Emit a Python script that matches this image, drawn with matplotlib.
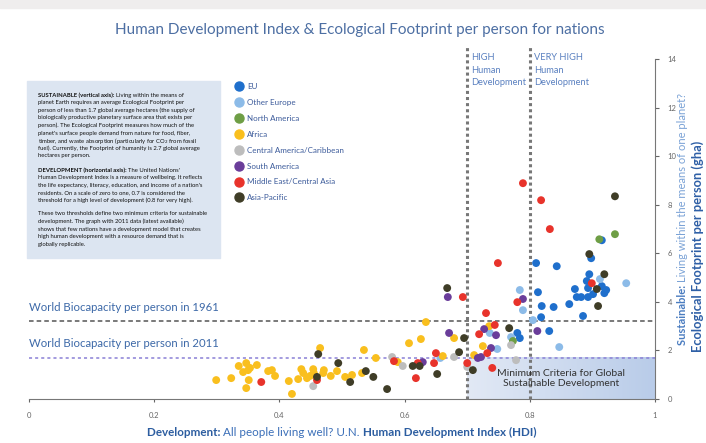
import numpy as np
import matplotlib.pyplot as plt
from matplotlib.lines import Line2D
from matplotlib.patches import Rectangle
from matplotlib.colors import LinearSegmentedColormap

plt.rcParams['font.family'] = ['Lato', 'DejaVu Sans']

# --- data (HDI, Ecological Footprint in gha) ---
regions = ['EU', 'Other Europe', 'North America', 'Africa',
           'Central America/Caribbean', 'South America',
           'Middle East/Central Asia', 'Asia-Pacific']
region_colors = ['#1f6fcc', '#8cbbe8', '#6e9e45', '#f9bf1e',
                 '#bdbdbd', '#6a3d9a', '#e8332b', '#3f3d27']

eu_hdi = [0.810, 0.843, 0.813, 0.819, 0.818, 0.831, 0.838, 0.780, 0.784, 0.863, 0.885, 0.872,
          0.875, 0.882, 0.893, 0.901, 0.893, 0.891, 0.895, 0.915, 0.922, 0.919, 0.898, 0.915]
eu_fp = [5.60, 5.47, 4.40, 3.83, 3.37, 2.80, 3.79, 2.72, 2.51, 3.91, 3.42, 4.53,
         4.20, 4.20, 4.20, 4.32, 4.57, 4.86, 5.14, 4.65, 4.49, 4.36, 5.80, 6.54]

oeu_hdi = [0.657, 0.748, 0.736, 0.770, 0.784, 0.789, 0.805, 0.847, 0.912, 0.954]
oeu_fp = [1.69, 2.06, 2.72, 2.55, 4.49, 3.66, 3.25, 2.14, 4.94, 4.77]

nam_hdi = [0.773, 0.911, 0.936]
nam_fp = [2.39, 6.58, 6.79]

afr_hdi = [0.299, 0.323, 0.335, 0.347, 0.342, 0.350, 0.353, 0.364, 0.351, 0.347, 0.382, 0.388,
           0.393, 0.415, 0.420, 0.430, 0.435, 0.438, 0.444, 0.454, 0.455, 0.465, 0.470, 0.471,
           0.482, 0.492, 0.505, 0.516, 0.532, 0.535, 0.554, 0.589, 0.607, 0.626, 0.634, 0.661,
           0.679, 0.711, 0.725, 0.735, 0.449]
afr_fp = [0.78, 0.86, 1.36, 1.48, 1.11, 1.19, 1.28, 1.40, 0.78, 0.45, 1.15, 1.19,
          0.95, 0.74, 0.21, 0.82, 1.23, 1.07, 0.86, 1.23, 1.07, 2.10, 1.07, 1.19,
          0.95, 1.15, 0.91, 0.99, 1.07, 2.02, 1.69, 1.52, 2.30, 2.47, 3.17, 1.77,
          2.51, 1.81, 2.18, 3.00, 0.95]

cam_hdi = [0.454, 0.580, 0.597, 0.679, 0.700, 0.770, 0.778]
cam_fp = [0.53, 1.73, 1.36, 1.73, 1.32, 2.22, 1.60]

sam_hdi = [0.629, 0.669, 0.671, 0.717, 0.722, 0.738, 0.727, 0.746, 0.789, 0.812]
sam_fp = [1.52, 4.20, 2.72, 1.69, 1.73, 2.10, 2.88, 2.63, 4.12, 2.80]

mec_hdi = [0.371, 0.460, 0.583, 0.618, 0.621, 0.647, 0.650, 0.693, 0.700, 0.730,
           0.719, 0.732, 0.740, 0.744, 0.749, 0.780, 0.789, 0.818, 0.832, 0.899]
mec_fp = [0.70, 0.78, 1.56, 0.86, 1.48, 1.48, 1.89, 4.20, 1.48, 3.54,
          2.67, 1.89, 1.28, 3.05, 5.60, 3.99, 8.89, 8.19, 7.00, 4.77]

asp_hdi = [0.460, 0.462, 0.494, 0.513, 0.538, 0.550, 0.572, 0.613, 0.624, 0.652,
           0.668, 0.687, 0.695, 0.709, 0.767, 0.895, 0.907, 0.909, 0.919, 0.936]
asp_fp = [0.91, 1.85, 1.48, 0.70, 1.15, 0.91, 0.41, 1.36, 1.36, 1.03,
          4.57, 1.93, 2.51, 1.19, 2.92, 5.97, 4.53, 3.83, 5.14, 8.35]

series = [(eu_hdi, eu_fp), (oeu_hdi, oeu_fp), (nam_hdi, nam_fp), (afr_hdi, afr_fp),
          (cam_hdi, cam_fp), (sam_hdi, sam_fp), (mec_hdi, mec_fp), (asp_hdi, asp_fp)]

biocap_1961 = 3.2
biocap_2011 = 1.7
hdi_high = 0.7
hdi_very_high = 0.8

x_ticks = [0, 0.2, 0.4, 0.6, 0.8, 1]
x_tick_labels = ['0', '0.2', '0.4', '0.6', '0.8', '1']
y_ticks = [0, 2, 4, 6, 8, 10, 12, 14]

fig = plt.figure(figsize=(7.06, 4.43), dpi=100)
ax = fig.add_axes([0.0411, 0.0993, 0.8867, 0.7946])
ax.set_facecolor('none')

# top grey strip
fig.patches.append(Rectangle((0, 0.982), 1, 0.018, transform=fig.transFigure,
                             color='#efeded', zorder=-1))

# shaded "minimum criteria" area
grad = LinearSegmentedColormap.from_list('g', ['#e2e9f5', '#b9cce9'])
ax.imshow(np.linspace(0, 1, 200).reshape(1, -1), extent=(hdi_high, 1, 0, biocap_2011),
          cmap=grad, aspect='auto', zorder=0)

# threshold lines
ax.axhline(biocap_1961, color='#555555', ls=(0, (3, 2)), lw=1.1, zorder=1)
ax.axhline(biocap_2011, color='#8a80d6', ls=(0, (2, 2)), lw=1.1, zorder=1)
for xv in [hdi_high, hdi_very_high]:
    ax.plot([xv, xv], [0, 14.5], color='#777777', ls=(0, (1, 1)), lw=2.2, zorder=1)

for (hx, fy), col in zip(series, region_colors):
    ax.scatter(hx, fy, s=32, color=col, edgecolors='none', zorder=3)

ax.set_xlim(0, 1)
ax.set_ylim(0, 14.5)
for s in ['top', 'left']:
    ax.spines[s].set_visible(False)
ax.spines['bottom'].set_color('#777777')
ax.spines['right'].set_color('#777777')
ax.spines['right'].set_bounds(0, 14)
ax.yaxis.tick_right()
ax.set_xticks(x_ticks, x_tick_labels)
ax.set_yticks(y_ticks)
ax.tick_params(axis='x', length=2, pad=7, labelsize=5.5, colors='#666666')
ax.tick_params(axis='y', length=3, pad=6, labelsize=5.5, colors='#666666')

# annotations inside plot
ax.text(0.0, biocap_1961 + 0.35, 'World Biocapacity per person in 1961', color='#3d69a8',
        fontsize=8.2, va='bottom', ha='left')
ax.text(0.0, biocap_2011 + 0.35, 'World Biocapacity per person in 2011', color='#3d69a8',
        fontsize=8.2, va='bottom', ha='left')
ax.text(hdi_high + 0.007, 14.25, 'HIGH\nHuman\nDevelopment', color='#5a80c0',
        fontsize=6.7, va='top', ha='left', linespacing=1.5)
ax.text(hdi_very_high + 0.007, 14.25, 'VERY HIGH\nHuman\nDevelopment', color='#5a80c0',
        fontsize=6.7, va='top', ha='left', linespacing=1.5)
ax.text(0.85, 0.84, 'Minimum Criteria for Global\nSustainable Development', color='#333333',
        fontsize=7.5, ha='center', va='center', linespacing=1.25, zorder=4)

# legend
handles = [Line2D([], [], marker='o', ls='none', color=c, markersize=6.5) for c in region_colors]
fig.legend(handles, regions, loc='upper left', bbox_to_anchor=(0.333, 0.812),
           bbox_transform=fig.transFigure, frameon=False, fontsize=5.8,
           handlelength=1, handletextpad=0.45, labelspacing=1.1, borderpad=0,
           borderaxespad=0, labelcolor='#3b5a9a')

# explanation box
fig.patches.append(Rectangle((0.038, 0.4176), 0.273, 0.3995, transform=fig.transFigure,
                             color='#dce5f1', zorder=-1))
para1 = ["planet Earth requires an average Ecological Footprint per",
         "person of less than 1.7 global average hectares (the supply of",
         "biologically productive planetary surface area that exists per",
         "person). The Ecological Footprint measures how much of the",
         "planet's surface people demand from nature for food, fiber,",
         "timber, and waste absorption (particularly for CO$_2$ from fossil",
         "fuel). Currently, the Footprint of humanity is 2.7 global average",
         "hectares per person."]
para2 = ["Human Development Index is a measure of wellbeing. It reflects",
         "the life expectancy, literacy, education, and income of a nation's",
         "residents. On a scale of zero to one, 0.7 is considered the",
         "threshold for a high level of development (0.8 for very high)."]
para3 = ["These two thresholds define two minimum criteria for sustainable",
         "development. The graph with 2011 data (latest available)",
         "shows that few nations have a development model that creates",
         "high human development with a resource demand that is",
         "globally replicable."]

box_fs = 4.2
box_x = 38 / 706
pitch = 7.6 / 443


def rich_text(x, y, parts, rotation=0, fontsize=8, va='center'):
    # chain text pieces so each starts where the previous one ends
    t = fig.text(x, y, parts[0][0], color=parts[0][1], fontweight=parts[0][2],
                 fontsize=fontsize, rotation=rotation, ha='left', va=va, zorder=5)
    for s, c, w in parts[1:]:
        if rotation == 90:
            t = ax.annotate(s, xy=(0, 1), xycoords=t, va='bottom', ha='left', rotation=90,
                            color=c, fontweight=w, fontsize=fontsize)
        else:
            t = ax.annotate(s, xy=(1, 0), xycoords=t, va='bottom', ha='left',
                            color=c, fontweight=w, fontsize=fontsize)
    return t


def y_of(py):
    return 1 - py / 443


rich_text(box_x, y_of(95), [('SUSTAINABLE (vertical axis): ', '#111111', 'bold'),
                            ('Living within the means of', '#111111', 'normal')], fontsize=box_fs)
for i, line in enumerate(para1):
    fig.text(box_x, y_of(95) - (i + 1) * pitch, line, fontsize=box_fs, color='#111111', va='center')
rich_text(box_x, y_of(170), [('DEVELOPMENT (horizontal axis): ', '#111111', 'bold'),
                             ("The United Nations'", '#111111', 'normal')], fontsize=box_fs)
for i, line in enumerate(para2):
    fig.text(box_x, y_of(170) - (i + 1) * pitch, line, fontsize=box_fs, color='#111111', va='center')
for i, line in enumerate(para3):
    fig.text(box_x, y_of(214) - i * pitch, line, fontsize=box_fs, color='#111111', va='center')

# title and axis labels
fig.text(0.51, y_of(30), 'Human Development Index & Ecological Footprint per person for nations',
         color='#4d6fa3', fontsize=11, ha='center', va='center')
rich_text(147 / 706, y_of(438), [('Development: ', '#2c5da0', 'bold'),
                                 ('All people living well? U.N. ', '#3b6fb8', 'normal'),
                                 ('Human Development Index (HDI)', '#2c5da0', 'bold')],
          fontsize=8.4, va='bottom')
rich_text(677 / 706, y_of(345), [('Sustainable: ', '#4a7cc0', 'bold'),
                                 ('Living within the means of one planet?', '#7aa2d6', 'normal')],
          rotation=90, fontsize=8, va='bottom')
fig.text(691 / 706, y_of(352), 'Ecological Footprint per person (gha)', color='#2e5fa6',
         fontweight='bold', fontsize=9.3, rotation=90, ha='left', va='bottom')

fig.savefig('out.png', dpi=100)
